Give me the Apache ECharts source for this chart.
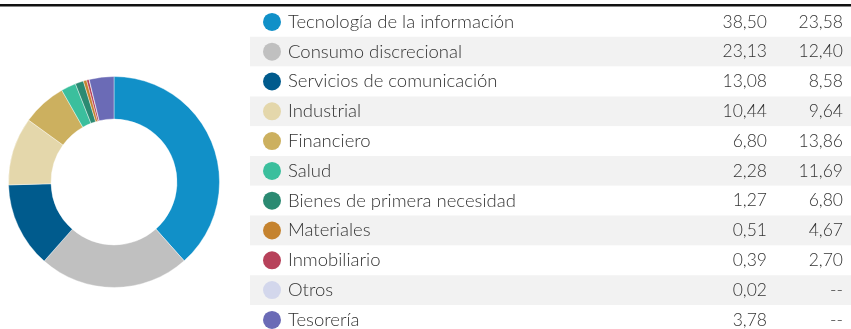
<!DOCTYPE html>
<html>
<head>
<meta charset="utf-8">
<script src="https://cdn.jsdelivr.net/npm/echarts@6/dist/echarts.min.js"></script>
<style>
  html, body { margin: 0; padding: 0; background: #fff; }
  #chart { width: 851px; height: 329px; }
</style>
</head>
<body>
<div id="chart"></div>
<script>
// Sector breakdown: portfolio weight vs. second reference column (%)
const categories = [
  'Tecnología de la información',
  'Consumo discrecional',
  'Servicios de comunicación',
  'Industrial',
  'Financiero',
  'Salud',
  'Bienes de primera necesidad',
  'Materiales',
  'Inmobiliario',
  'Otros',
  'Tesorería'
];
const fundWeights = [38.50, 23.13, 13.08, 10.44, 6.80, 2.28, 1.27, 0.51, 0.39, 0.02, 3.78];
const indexWeights = [23.58, 12.40, 8.58, 9.64, 13.86, 11.69, 6.80, 4.67, 2.70, null, null];
const sectorColors = [
  '#1190c8', '#c0c0c0', '#005b8d', '#e4d7ab', '#ccb05f', '#3bbf9d',
  '#2b8a72', '#c5832f', '#b7415a', '#d3d7ec', '#6b6bb6'
];

const fmt = v => (v === null ? '--' : v.toFixed(2).replace('.', ','));
const FONT = 'Lato';

// one rich-text dot style per sector, coloured like its slice
const rich = {
  n: { fontFamily: FONT, fontSize: 18.5, fontWeight: 300, color: '#333', width: 393, padding: [0, 0, 0, 7], align: 'left' },
  v: { fontFamily: FONT, fontSize: 17.5, fontWeight: 300, color: '#333', width: 86, align: 'right' },
  w: { fontFamily: FONT, fontSize: 17.5, fontWeight: 300, color: '#333', width: 76, align: 'right' }
};
sectorColors.forEach((c, i) => {
  rich['d' + i] = { width: 18, height: 18, borderRadius: 9, backgroundColor: c };
});

const chart = echarts.init(document.getElementById('chart'), null, { renderer: 'canvas' });
chart.setOption({
  animation: false,
  graphic: [
    { type: 'rect', shape: { x: 0, y: 4, width: 851, height: 2.5 }, style: { fill: '#111' }, z: 10 }
  ],
  // table rows run past the bottom edge, so the grid is allowed to overflow
  grid: { left: 250, right: 0, top: 7, height: 11 * 29.8, outerBoundsMode: 'none' },
  xAxis: { type: 'value', min: 0, max: 1, show: false },
  yAxis: {
    type: 'category',
    inverse: true,
    data: categories,
    axisLine: { show: false },
    axisTick: { show: false },
    splitLine: { show: false },
    splitArea: { show: true, areaStyle: { color: ['#ffffff', '#f2f2f2'] } },
    axisLabel: {
      inside: true,
      margin: 13,
      formatter: (name, i) =>
        `{d${i}|}{n|${name}}{v|${fmt(fundWeights[i])}}{w|${fmt(indexWeights[i])}}`,
      rich
    }
  },
  series: [
    {
      type: 'pie',
      center: [114, 182],
      radius: [63, 105.5],
      startAngle: 90,
      clockwise: true,
      label: { show: false },
      labelLine: { show: false },
      itemStyle: { borderColor: '#fff', borderWidth: 0.4 },
      data: categories.map((name, i) => ({
        name,
        value: fundWeights[i],
        itemStyle: { color: sectorColors[i] }
      }))
    }
  ]
});
</script>
</body>
</html>
